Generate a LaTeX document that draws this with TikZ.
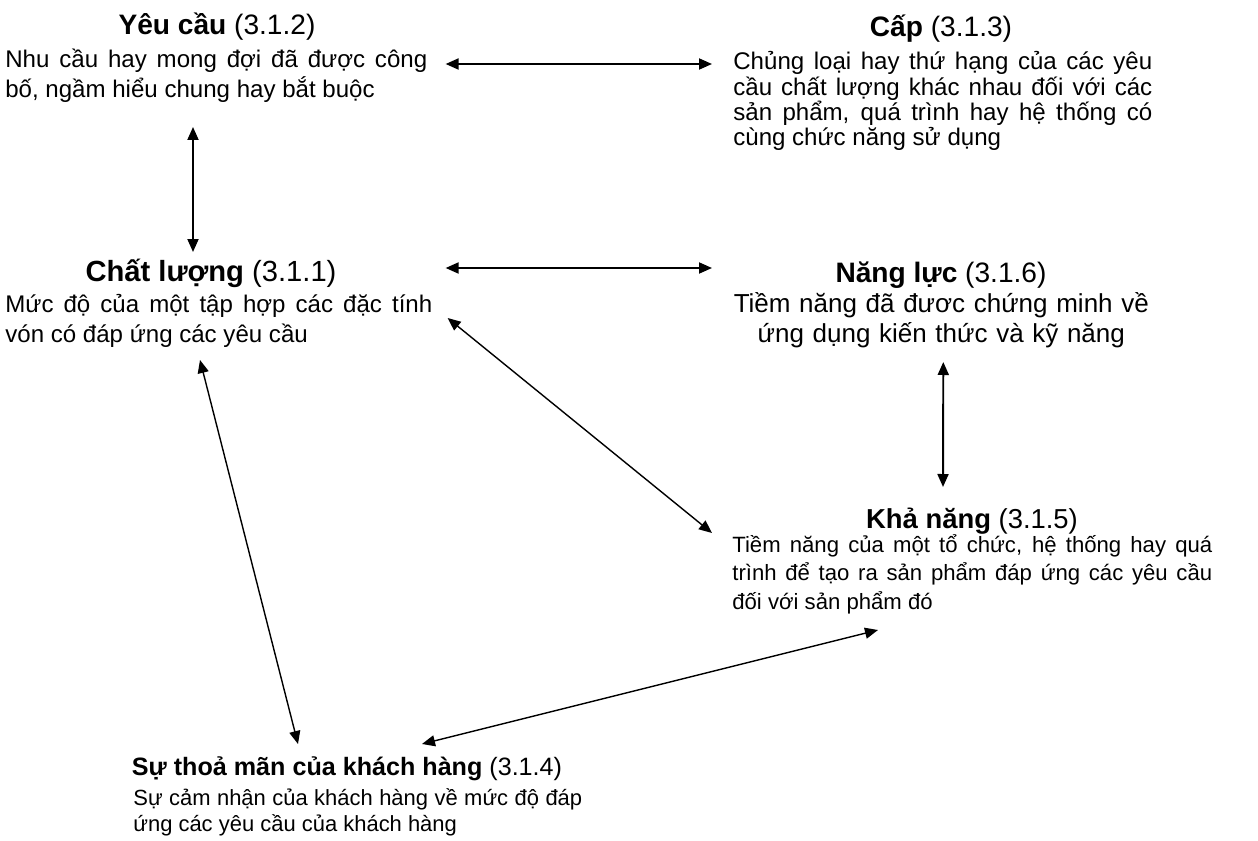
\documentclass[tikz,border=0pt]{standalone}
\usepackage{fontspec}
\setmainfont{Liberation Sans}
\usetikzlibrary{calc,positioning}
\usetikzlibrary{arrows.meta}
\tikzset{>={Triangle[width=2.2mm,length=2.6mm]}}
\hyphenpenalty=10000
\exhyphenpenalty=10000

\begin{document}
\begin{tikzpicture}[x=0.02cm,y=-0.02cm]
        \tikzstyle{tnode} = [inner sep=0pt, anchor=base, font=\fontsize{16}{19}\selectfont]
        \tikzstyle{bnode} = [inner sep=0pt, anchor=base west, align=justify, font=\fontsize{13.7}{16.6}\selectfont]
        \tikzstyle{link} = [<->, line width=1.1pt]
        \useasboundingbox (0,0) rectangle (1258,841);

        \node[tnode] (yeucau-t) at (217,35) {\textbf{Yêu cầu} (3.1.2)};
        \node[bnode, text width=8.44cm] (yeucau) at (5,68)
          {Nhu cầu hay mong đợi đã được công\linebreak bố, ngầm hiểu chung hay bắt buộc};

        \node[tnode] (cap-t) at (941,37) {\textbf{Cấp} (3.1.3)};
        \node[bnode, text width=8.38cm, font=\fontsize{13.7}{14.3}\selectfont] (cap) at (733,70)
          {Chủng loại hay thứ hạng của các yêu\linebreak cầu chất lượng khác nhau đối với các\linebreak
           sản phẩm, quá trình hay hệ thống có\linebreak cùng chức năng sử dụng};

        \node[tnode, font=\fontsize{16.6}{19}\selectfont] (chatluong-t) at (211,282) {\textbf{Chất lượng} (3.1.1)};
        \node[bnode, text width=8.54cm] (chatluong) at (5,313)
          {Mức độ của một tập hợp các đặc tính\linebreak vón có đáp ứng các yêu cầu};

        \node[tnode] (nangluc-t) at (941,283) {\textbf{Năng lực} (3.1.6)};
        \node[bnode, text width=8.4cm, align=center, font=\fontsize{14.8}{16.6}\selectfont] (nangluc) at (731,313)
          {Tiềm năng đã đươc chứng minh về\\ ứng dụng kiến thức và kỹ năng};

        \node[tnode, font=\fontsize{15.6}{19}\selectfont] (khanang-t) at (972,528) {\textbf{Khả năng} (3.1.5)};
        \node[bnode, text width=9.6cm, font=\fontsize{12.6}{16.5}\selectfont] (khanang) at (732,552)
          {Tiềm năng của một tổ chức, hệ thống hay quá\linebreak trình để tạo ra sản phẩm đáp ứng các yêu cầu\linebreak
           đối với sản phẩm đó};

        \node[tnode, font=\fontsize{14.3}{17}\selectfont] (thoaman-t) at (347,775) {\textbf{Sự thoả mãn của khách hàng} (3.1.4)};
        \node[bnode, text width=8.98cm, font=\fontsize{12.5}{14.8}\selectfont] (thoaman) at (133,805)
          {Sự cảm nhận của khách hàng về mức độ đáp\linebreak ứng các yêu cầu của khách hàng};

        \draw[link] ($(yeucau.base east)+(18,-4)$) to ($(cap.base west)+(-21,-6)$);
        \draw[link] ($(yeucau-t.base)+(-24,92)$) to ($(chatluong-t.base)+(-18,-30)$);
        \draw[link] ($(chatluong.base east)+(13,-45)$) to ($(nangluc.base west)+(-19,-45)$);
        \draw[link, line width=0.8pt] ($(chatluong.base east)+(15,5)$) to ($(khanang.base west)+(-20,-19)$);
        \draw[link] ($(nangluc.base)+(2,49)$) to ($(khanang-t.base)+(-29,-41)$);
        \draw[link, line width=0.8pt] ($(chatluong.base west)+(195,47)$) to ($(thoaman-t.base)+(-49,-31)$);
        \draw[link, line width=0.8pt] ($(thoaman-t.base)+(75,-31)$) to ($(khanang.base west)+(146,78)$);
\end{tikzpicture}
\end{document}
